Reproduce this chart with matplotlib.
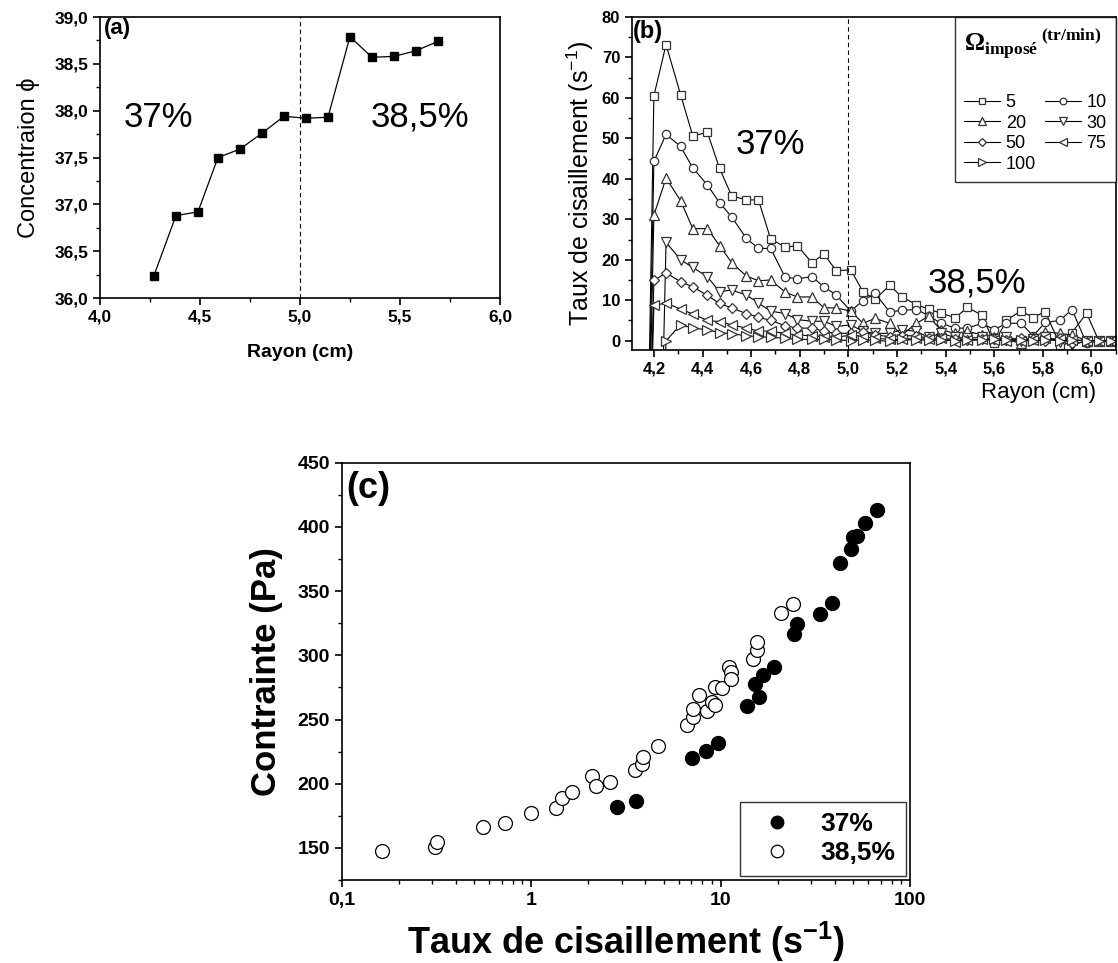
import matplotlib

matplotlib.use("Agg")
from matplotlib import font_manager
from matplotlib import pyplot as plt
from matplotlib.ticker import MultipleLocator, LogLocator, NullFormatter


# --- panel (a): concentration profile ---------------------------------------
RADIUS_A = [4.27, 4.38, 4.49, 4.59, 4.70, 4.81, 4.92, 5.03, 5.14, 5.25, 5.36, 5.47, 5.58, 5.69]
CONC_A = [36.24, 36.88, 36.92, 37.50, 37.59, 37.76, 37.94, 37.92, 37.93, 38.79, 38.57, 38.58, 38.64, 38.74]
A_XTICKS = [4.0, 4.5, 5.0, 5.5, 6.0]
A_XLABELS = ["4,0", "4,5", "5,0", "5,5", "6,0"]
A_YTICKS = [36.0, 36.5, 37.0, 37.5, 38.0, 38.5, 39.0]
A_YLABELS = ["36,0", "36,5", "37,0", "37,5", "38,0", "38,5", "39,0"]

# --- panel (b): local shear rate per imposed rotation speed -----------------
# first value of each x list is the wall point (far below the axis)
RADIUS_B = [4.16, 4.20, 4.25, 4.31, 4.36, 4.42, 4.47, 4.52, 4.58, 4.63, 4.68, 4.74, 4.79,
            4.85, 4.90, 4.95, 5.01, 5.06, 5.11, 5.17, 5.22, 5.28, 5.33, 5.38, 5.44,
            5.49, 5.55, 5.60, 5.65, 5.71, 5.76, 5.81, 5.87, 5.92, 5.98, 6.03, 6.08]
RADIUS_B_LATE = [4.21, 4.25, 4.31, 4.36, 4.42, 4.47, 4.52, 4.58, 4.63, 4.68, 4.74, 4.79,
                 4.85, 4.90, 4.95, 5.01, 5.06, 5.11, 5.17, 5.22, 5.28, 5.33, 5.38, 5.44,
                 5.49, 5.55, 5.60, 5.65, 5.71, 5.76, 5.81, 5.87, 5.92, 5.98, 6.03, 6.08]
RATE_5 = [-80, 60.5, 73.2, 60.8, 50.6, 51.5, 42.6, 35.8, 34.8, 34.8, 25.2, 23.1, 23.5, 19.3, 21.4,
          17.3, 17.5, 12.1, 10.2, 13.7, 10.8, 8.9, 7.8, 6.8, 5.7, 8.2, 6.3, -0.7, 5.0, 7.4, 5.7,
          7.2, -1.0, 2.0, 6.8, 0.0, 0.0]
RATE_10 = [-80, 44.3, 51.0, 48.0, 42.7, 38.5, 34.1, 30.6, 25.3, 22.8, 22.8, 15.7, 15.3, 15.8, 13.3,
           11.3, 7.3, 9.9, 11.7, 7.1, 7.5, 7.7, 6.2, 4.3, 3.1, 3.1, 4.3, 2.7, 4.3, 4.3, 1.2, 4.5,
           5.0, 7.7, -0.7, 0.0, 0.0]
RATE_20 = [-80, 31.0, 40.2, 34.6, 27.7, 27.7, 23.5, 19.3, 16.0, 14.8, 15.0, 12.0, 10.8, 10.8, 8.1,
           8.1, 7.3, 4.3, 5.5, 4.3, 1.4, 4.3, 6.0, 2.7, 1.8, 2.3, 1.4, 1.0, 0.3, -0.7, 1.0, 2.2,
           1.8, 1.4, 0.0, 0.0, 0.0]
RATE_30 = [-80, 24.3, 20.0, 18.1, 15.8, 12.1, 12.5, 11.3, 9.3, 7.3, 6.7, 5.2, 4.8, 4.8, 3.5, 3.9,
           2.3, 1.8, 1.8, 2.7, 2.3, 0.8, 1.8, 0.8, 0.6, 0.8, 0.3, 1.0, 0.0, 0.3, 1.0, -0.3, -1.1,
           0.0, 0.0, 0.0]
RATE_50 = [-80, 14.9, 16.7, 14.6, 13.3, 11.2, 9.2, 8.1, 6.7, 5.8, 5.0, 3.7, 3.1, 3.1, 2.3, 1.8,
           1.8, 2.1, 1.4, 1.0, 1.2, 1.2, 0.6, 0.6, 0.3, 0.2, 0.3, 0.3, 0.2, 0.6, 0.3, 0.0, 0.6,
           -0.7, -0.3, 0.0, 0.0]
RATE_75 = [-80, 8.7, 9.3, 7.8, 6.6, 5.0, 4.7, 3.9, 3.1, 2.4, 2.3, 1.8, 1.4, 1.2, 1.0, 0.8, 1.4,
           1.0, 0.6, 0.3, 0.3, 0.6, 0.3, 0.6, -0.3, 0.2, 0.3, 0.2, 0.0, 0.0, 0.2, 0.6, 0.3, 0.2,
           0.0, 0.0, 0.0]
RATE_100 = [-80, 0.0, 3.9, 3.1, 2.7, 2.0, 1.7, 1.2, 1.0, 0.8, 0.6, 0.3, 0.3, 0.3, 0.2, 0.0, 0.2,
            0.1, -0.2, 0.3, 0.1, 0.2, 0.1, 0.0, 0.2, 0.1, 0.3, 0.1, 0.2, -0.2, 0.2, 0.0, 0.1,
            0.0, 0.0, 0.0]
SPEED_LABELS = ["5", "10", "20", "30", "50", "75", "100"]
B_XTICKS = [4.2, 4.4, 4.6, 4.8, 5.0, 5.2, 5.4, 5.6, 5.8, 6.0]
B_XLABELS = ["4,2", "4,4", "4,6", "4,8", "5,0", "5,2", "5,4", "5,6", "5,8", "6,0"]
B_YTICKS = [0, 10, 20, 30, 40, 50, 60, 70, 80]

# --- panel (c): flow curve ---------------------------------------------------
RATE_37 = [2.83, 3.58, 7.05, 8.39, 9.7, 13.8, 15.2, 16.0, 16.8, 19.2, 24.4, 25.2, 33.5, 38.6,
           42.7, 48.9, 50.2, 52.7, 57.9, 66.8]
STRESS_37 = [182.0, 186.6, 220.1, 225.6, 231.5, 260.9, 277.5, 267.6, 284.5, 291.0, 316.5, 324.3,
             332.1, 340.9, 372.1, 382.5, 391.9, 392.9, 402.8, 413.1]
RATE_385 = [0.164, 0.311, 0.32, 0.555, 0.727, 0.995, 1.35, 1.46, 1.65, 2.10, 2.19, 2.61, 3.54,
            3.87, 3.88, 4.67, 6.65, 7.17, 7.13, 7.70, 8.45, 8.98, 9.3, 9.38, 10.15, 11.1, 11.3,
            11.4, 14.9, 15.5, 15.5, 20.8, 24.2]
STRESS_385 = [147.4, 150.8, 154.2, 166.4, 169.7, 177.5, 181.4, 188.7, 193.5, 206.0, 198.0, 201.3,
              210.8, 215.2, 220.9, 229.5, 245.6, 251.6, 257.9, 269.3, 256.6, 263.5, 261.5, 275.0,
              274.2, 291.2, 287.0, 281.2, 297.5, 304.0, 310.5, 332.6, 339.9]
C_XTICKS = [0.1, 1, 10, 100]
C_XLABELS = ["0,1", "1", "10", "100"]
C_YTICKS = [150, 200, 250, 300, 350, 400, 450]


def _pick_family(*names):
    installed = {f.name for f in font_manager.fontManager.ttflist}
    for name in names:
        if name in installed:
            return name
    return "DejaVu Sans"


SANS = _pick_family("Liberation Sans", "Arial")
NARROW = _pick_family("Liberation Sans Narrow", "Liberation Sans")


def _style_ticks(axis, size):
    axis.tick_params(which="both", direction="out", top=False, right=False)
    axis.tick_params(which="major", length=5, width=1.2)
    axis.tick_params(which="minor", length=3, width=1.0)
    for label in axis.get_xticklabels() + axis.get_yticklabels():
        label.set_fontfamily(NARROW)
        label.set_fontweight("bold")
        label.set_fontsize(size)
    for spine in axis.spines.values():
        spine.set_linewidth(1.2)


def draw_panel_a(figure):
    axis = figure.add_axes([0.0894, 0.6905, 0.3578, 0.2918])
    axis.plot(RADIUS_A, CONC_A, color="black", linewidth=0.9, marker="s", markersize=5.5,
              markerfacecolor="black", markeredgecolor="black")
    axis.axvline(5.0, color="black", linestyle=(0, (4, 3)), linewidth=0.8)
    axis.set_xlim(4.0, 6.0)
    axis.set_ylim(36.0, 39.0)
    axis.set_xticks(A_XTICKS, A_XLABELS)
    axis.set_yticks(A_YTICKS, A_YLABELS)
    axis.xaxis.set_minor_locator(MultipleLocator(0.25))
    axis.yaxis.set_minor_locator(MultipleLocator(0.25))
    _style_ticks(axis, 12.5)
    axis.set_xlabel("Rayon (cm)", fontsize=14, fontweight="bold", labelpad=14)
    axis.set_ylabel("Concentraion ϕ", fontsize=17, labelpad=10)
    axis.text(4.02, 38.88, "(a)", fontsize=16, fontweight="bold", va="center")
    axis.text(4.29, 37.93, "37%", fontsize=25, ha="center", va="center")
    axis.text(5.60, 37.93, "38,5%", fontsize=25, ha="center", va="center")


def draw_panel_b(figure):
    axis = figure.add_axes([0.5653, 0.6366, 0.4327, 0.3457])
    series = [
        (RADIUS_B, RATE_5, "s", 5.5),
        (RADIUS_B, RATE_10, "o", 6.0),
        (RADIUS_B, RATE_20, "^", 6.5),
        (RADIUS_B_LATE, RATE_30, "v", 6.5),
        (RADIUS_B, RATE_50, "D", 5.0),
        (RADIUS_B, RATE_75, "<", 6.5),
        (RADIUS_B_LATE, RATE_100, ">", 6.5),
    ]
    handles = []
    for (xs, ys, marker, size), label in zip(series, SPEED_LABELS):
        (line,) = axis.plot(xs, ys, color="black", linewidth=0.8, marker=marker,
                            markersize=size, markerfacecolor="white",
                            markeredgecolor="#333333", markeredgewidth=0.9, label=label)
        handles.append(line)
    axis.axvline(5.0, color="black", linestyle=(0, (4, 3)), linewidth=0.8)
    axis.set_xlim(4.11, 6.10)
    axis.set_ylim(-2.3, 80)
    axis.set_xticks(B_XTICKS, B_XLABELS)
    axis.set_yticks(B_YTICKS)
    axis.xaxis.set_minor_locator(MultipleLocator(0.1))
    axis.yaxis.set_minor_locator(MultipleLocator(5))
    _style_ticks(axis, 12)
    axis.set_ylabel("Taux de cisaillement (s$^{-1}$)", fontsize=18, labelpad=4)
    axis.set_xlabel("Rayon (cm)", fontsize=16)
    axis.xaxis.set_label_coords(0.84, -0.095)
    axis.text(4.115, 76.5, "(b)", fontsize=17, fontweight="bold", va="center")
    axis.text(4.68, 48.5, "37%", fontsize=25, ha="center", va="center")
    axis.text(5.53, 14.3, "38,5%", fontsize=25, ha="center", va="center")

    # legend laid out row-wise like the original: 5 10 / 20 30 / 50 75 / 100
    order = [0, 2, 4, 6, 1, 3, 5]
    legend = axis.legend(
        [handles[i] for i in order],
        [SPEED_LABELS[i] for i in order],
        loc="upper right",
        ncol=2,
        title=r"$\mathbf{\Omega_{imposé}}\,{}^{\mathbf{(tr/min)}}$",
        title_fontsize=18,
        alignment="left",
        fontsize=13,
        frameon=True,
        fancybox=False,
        edgecolor="black",
        borderaxespad=0.0,
        handlelength=2.0,
        handletextpad=0.3,
        columnspacing=0.5,
        labelspacing=0.2,
        borderpad=0.5,
        markerscale=0.8,
    )
    legend.get_frame().set_linewidth(1.0)
    legend._legend_box.sep = 24


def draw_panel_c(figure):
    axis = figure.add_axes([0.3056, 0.0862, 0.5084, 0.4333])
    axis.plot(RATE_37, STRESS_37, linestyle="none", marker="o", markersize=10,
              markerfacecolor="black", markeredgecolor="black", label="37%")
    axis.plot(RATE_385, STRESS_385, linestyle="none", marker="o", markersize=10,
              markerfacecolor="white", markeredgecolor="black", markeredgewidth=0.9,
              label="38,5%")
    axis.set_xscale("log")
    axis.set_xlim(0.1, 100)
    axis.set_ylim(125, 450)
    axis.set_xticks(C_XTICKS, C_XLABELS)
    axis.xaxis.set_minor_locator(LogLocator(base=10, subs=range(2, 10)))
    axis.xaxis.set_minor_formatter(NullFormatter())
    axis.set_yticks(C_YTICKS)
    axis.yaxis.set_minor_locator(MultipleLocator(25))
    _style_ticks(axis, 14)
    axis.set_xlabel(r"Taux de cisaillement (s$^{\mathsf{-1}}$)", fontsize=26,
                    fontweight="bold", fontfamily=NARROW, labelpad=8)
    axis.set_ylabel("Contrainte (Pa)", fontsize=25, fontweight="bold", labelpad=10)
    axis.text(0.106, 430, "(c)", fontsize=26, fontweight="bold", va="center")
    legend = axis.legend(
        loc="lower right",
        prop={"weight": "bold", "size": 19},
        frameon=True,
        fancybox=False,
        edgecolor="black",
        borderaxespad=0.15,
        handletextpad=0.65,
        labelspacing=0.2,
        borderpad=0.4,
        markerscale=0.9,
    )
    legend.get_frame().set_linewidth(1.0)


def main():
    plt.rcParams.update(
        {
            "font.family": [SANS, "DejaVu Sans"],
            "mathtext.fontset": "custom",
            "mathtext.rm": SANS,
            "mathtext.sf": SANS + ":bold",
            "mathtext.bf": "Liberation Serif:bold",
            "mathtext.it": SANS + ":italic",
        }
    )
    figure = plt.figure(figsize=(11.18, 9.63), dpi=100)
    draw_panel_a(figure)
    draw_panel_b(figure)
    draw_panel_c(figure)
    figure.savefig("out.png", dpi=100, facecolor="white")
    plt.close(figure)


if __name__ == "__main__":
    main()
